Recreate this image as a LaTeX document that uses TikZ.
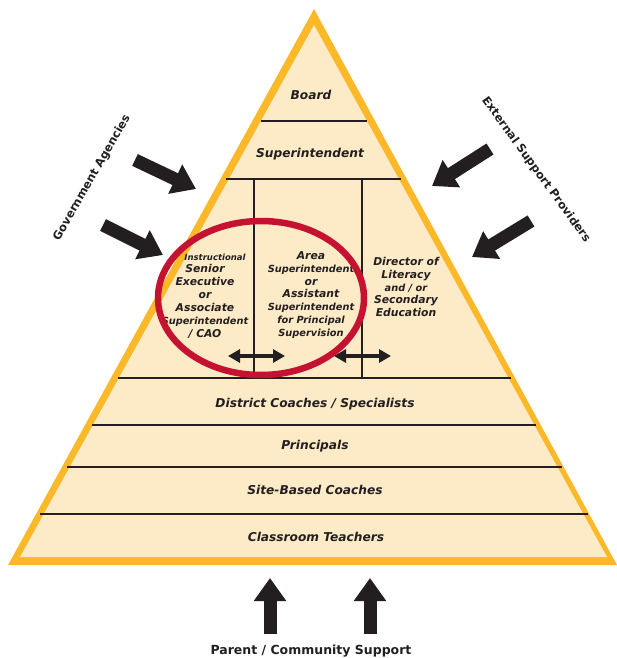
\documentclass[tikz,border=0pt]{standalone}
\usepackage{fontspec}
\setmainfont{DejaVu Sans}
\usetikzlibrary{arrows.meta}
\definecolor{pyryellow}{HTML}{FBB829}
\definecolor{pyrcream}{HTML}{FDEAC6}
\definecolor{pyrred}{HTML}{C41230}
\definecolor{pyrink}{HTML}{231F20}
\tikzset{
  level/.style={font=\bfseries\itshape\fontsize{12.2}{14}\selectfont, text=pyrink},
  col/.style={font=\bfseries\itshape\fontsize{10.8}{12.9}\selectfont, text=pyrink, align=center, inner sep=0pt},
  side/.style={font=\bfseries\fontsize{11.5}{14}\selectfont, text=pyrink},
  rule/.style={line width=2.2pt, pyrink},
  bigarrow/.style={line width=13pt, pyrink, -{Triangle[length=23pt,width=31pt]}},
  duoarrow/.style={line width=3.5pt, pyrink, {Triangle[length=12pt,width=13pt]}-{Triangle[length=12pt,width=13pt]}}
}
\newcommand{\smallline}[1]{{\fontsize{9.8}{12.9}\selectfont #1}}
\begin{document}
\begin{tikzpicture}[x=1pt,y=-1pt]
\useasboundingbox (0,0) rectangle (616,658);
% pyramid
\fill[pyryellow] (314,9)--(8,565)--(617,565)--cycle;
\fill[pyrcream] (314,25)--(20,557)--(607,557)--cycle;
% levels
\draw[rule] (261,121)--(367,121);
\draw[rule] (226,179)--(401,179);
\draw[rule] (254,179)--(254,378);
\draw[rule] (362,179)--(362,378);
\draw[rule] (118,378)--(511,378);
\draw[rule] (92,425)--(536,425);
\draw[rule] (67,467)--(562,467);
\draw[rule] (40,514)--(588,514);
\node[level] (board) at (311,95) {Board};
\node[level] (supt) at (310,154) {Superintendent};
\node[level] (coaches) at (315,404) {District Coaches / Specialists};
\node[level] (principals) at (315,446) {Principals};
\node[level] (sitebased) at (315,490) {Site-Based Coaches};
\node[level] (teachers) at (316,537) {Classroom Teachers};
% middle row
\node[col] (senior) at (205,296) {\hspace*{20pt}{\fontsize{8.5}{12.9}\selectfont Instructional}\\ Senior\\ Executive\\ or\\ Associate\\ \smallline{Superintendent}\\ / CAO};
\node[col] (area) at (311,295) {Area\\ \smallline{Superintendent}\\ or\\ Assistant\\ \smallline{Superintendent}\\ \smallline{for Principal}\\ \smallline{Supervision}};
\node[col] (literacy) at (406,287) {Director of\\ Literacy\\ \smallline{and / or}\\ Secondary\\ Education};
\draw[pyrred, line width=6.5pt] (261,298) ellipse (103 and 77);
\coordinate (dl1) at (228,356);
\coordinate (dl2) at (285,356);
\coordinate (dr1) at (334,356);
\coordinate (dr2) at (391,356);
\draw[duoarrow] (dl1)--(dl2);
\draw[duoarrow] (dr1)--(dr2);
% outside influences
\node[side, rotate=60] (gov) at (92,178) {Government Agencies};
\node[side, rotate=-54] (ext) at (536,170) {External Support Providers};
\node[side, font=\bfseries\fontsize{12.5}{14}\selectfont] (parent) at (311,651) {Parent / Community Support};
\coordinate (g1) at (135,160);
\coordinate (g1t) at (196,189);
\coordinate (g2) at (103,225);
\coordinate (g2t) at (163,255);
\coordinate (e1) at (490,149);
\coordinate (e1t) at (432,186);
\coordinate (e2) at (531,221);
\coordinate (e2t) at (472,257);
\coordinate (p1) at (270,634);
\coordinate (p1t) at (270,578);
\coordinate (p2) at (370,634);
\coordinate (p2t) at (370,578);
\draw[bigarrow] (g1)--(g1t);
\draw[bigarrow] (g2)--(g2t);
\draw[bigarrow] (e1)--(e1t);
\draw[bigarrow] (e2)--(e2t);
\draw[bigarrow] (p1)--(p1t);
\draw[bigarrow] (p2)--(p2t);
\end{tikzpicture}
\end{document}
